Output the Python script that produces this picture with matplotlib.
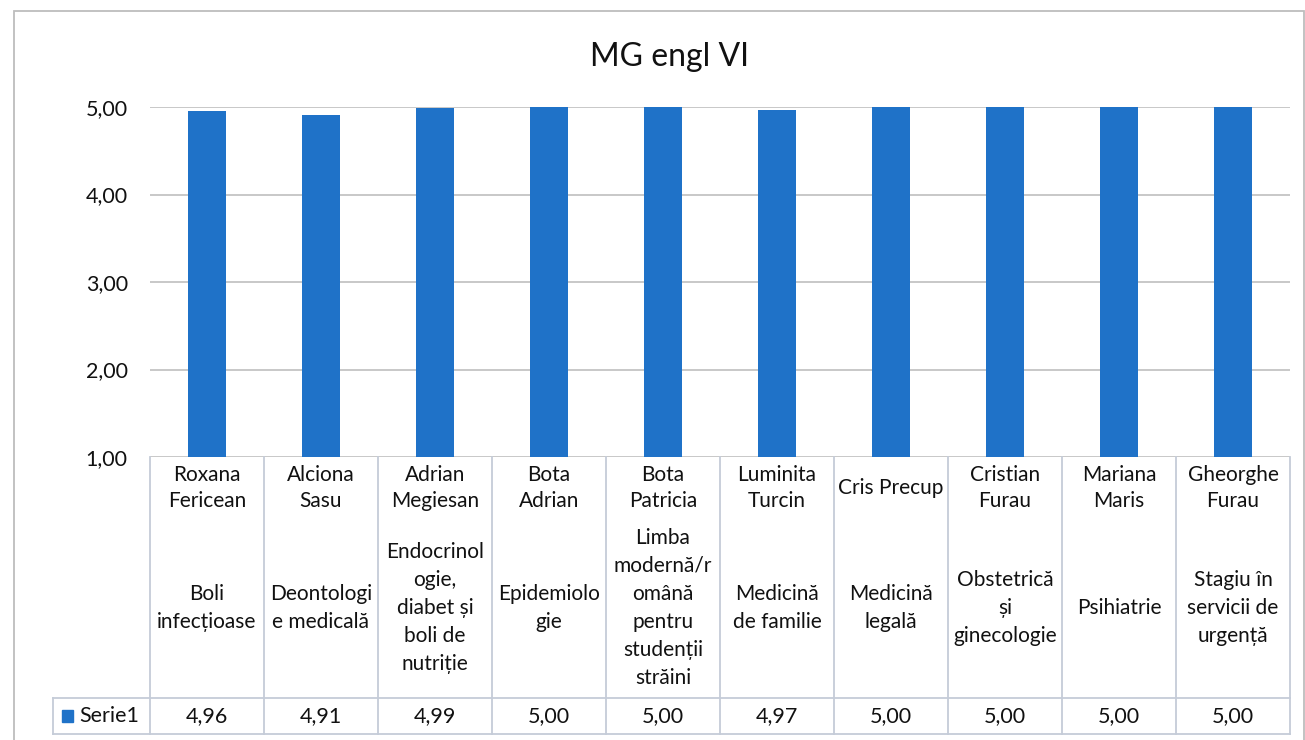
import matplotlib.pyplot as plt
from matplotlib.patches import Rectangle

plt.rcParams['font.family'] = ['Lato', 'DejaVu Sans']

# Data
teachers = ["Roxana\nFericean", "Alciona\nSasu", "Adrian\nMegiesan", "Bota\nAdrian",
            "Bota\nPatricia", "Luminita\nTurcin", "Cris Precup", "Cristian\nFurau",
            "Mariana\nMaris", "Gheorghe\nFurau"]
subjects = ["Boli\ninfecțioase", "Deontologi\ne medicală",
            "Endocrinol\nogie,\ndiabet și\nboli de\nnutriție", "Epidemiolo\ngie",
            "Limba\nmodernă/r\nomână\npentru\nstudenții\nstrăini", "Medicină\nde familie",
            "Medicină\nlegală", "Obstetrică\nși\nginecologie", "Psihiatrie",
            "Stagiu în\nservicii de\nurgență"]
values = [4.96, 4.91, 4.99, 5.00, 5.00, 4.97, 5.00, 5.00, 5.00, 5.00]
yticks = [1, 2, 3, 4, 5]
series_name = "Serie1"

bar_color = "#1f72c8"
grid_color = "#c4c4c4"
table_color = "#c5ccd8"
W, H = 1305, 740

fig = plt.figure(figsize=(W / 100, H / 100), dpi=100)
# plot area in pixels: x 150..1290, y 107..457
ax = fig.add_axes([150 / W, (H - 457) / H, 1140 / W, 350 / H])

x = list(range(len(values)))
ax.bar(x, values, width=0.33, color=bar_color, zorder=2)
ax.set_xlim(-0.5, len(values) - 0.5)
ax.set_ylim(1, 5)
ax.set_yticks(yticks)
ax.set_yticklabels([f"{t:.2f}".replace('.', ',') for t in yticks], fontsize=15.5, color="#111111")
ax.set_xticks([])
ax.tick_params(axis='y', length=0, pad=16)
for t in yticks:
    ax.axhline(t, color=grid_color, linewidth=1.3, zorder=1)
for s in ax.spines.values():
    s.set_visible(False)

# data table under the chart
tr = ax.get_xaxis_transform()
def ya(py):
    return (457 - py) / 350

x_left = -0.5 - 97 / 114
lines = dict(color=table_color, linewidth=1.3, transform=tr, clip_on=False)
for k in range(len(values) + 1):
    ax.plot([k - 0.5, k - 0.5], [ya(457), ya(734)], **lines)
ax.plot([x_left, x_left], [ya(698), ya(734)], **lines)
ax.plot([x_left, len(values) - 0.5], [ya(698), ya(698)], **lines)
ax.plot([x_left, len(values) - 0.5], [ya(734), ya(734)], **lines)

for i, (name, subj, v) in enumerate(zip(teachers, subjects, values)):
    ax.text(i, ya(488), name, transform=tr, ha='center', va='center',
            fontsize=15, linespacing=1.42, color="#111111")
    ax.text(i, ya(608), subj, transform=tr, ha='center', va='center',
            fontsize=15, linespacing=1.5, color="#111111")
    ax.text(i, ya(716), f"{v:.2f}".replace('.', ','), transform=tr, ha='center',
            va='center', fontsize=15.5, color="#111111")

ax.add_patch(Rectangle((x_left + 9 / 114, ya(722)), 11 / 114, 12 / 350,
                       transform=tr, color=bar_color, clip_on=False))
ax.text(x_left + 26 / 114, ya(716), series_name, transform=tr, ha='left',
        va='center', fontsize=15.5, color="#111111")

# title and chart border
fig.text(670 / W, (H - 57) / H, "MG engl VI", ha='center', va='center',
         fontsize=23, color="#111111")
fig.patches.append(Rectangle((14 / W, -0.01), 1290 / W, (H - 11) / H + 0.01,
                             transform=fig.transFigure, fill=False,
                             edgecolor="#bdbdbd", linewidth=1.3))

fig.savefig("out.png", dpi=100)
